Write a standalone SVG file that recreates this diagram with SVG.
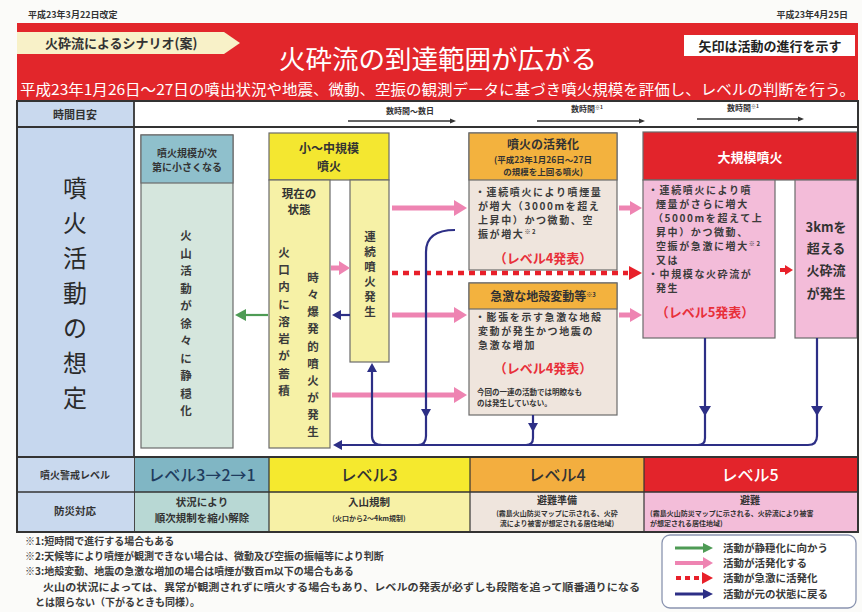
<svg xmlns="http://www.w3.org/2000/svg" width="862" height="612" viewBox="0 0 862 612">
<style>
text{font-family:"Noto Sans CJK JP","Noto Sans",sans-serif;fill:#333}
.b{font-weight:bold}
.c{text-anchor:middle}
.bd{font-size:10px;letter-spacing:1.6px;font-weight:bold;fill:#3b3b3b}
.red{font-size:13px;font-weight:bold;fill:#e8303a}
.vt{font-size:11.5px;font-weight:bold;text-anchor:middle;fill:#3b3b3b}
.bx{stroke:#6b6b6b;stroke-width:1.2}
.pk{stroke:#ee84b2;stroke-width:5;fill:none}
.nv{stroke:#2d2f86;stroke-width:2.2;fill:none}
.nvh{fill:#2d2f86}
.pkh{fill:#ee84b2}
.fn{font-size:10px;font-weight:bold;fill:#3a3a3a}
.lg{font-size:10.5px;font-weight:bold;fill:#3a3a3a}
.tl{stroke:#333;stroke-width:1.5}
.lv{font-size:16px;font-weight:500;text-anchor:middle}
</style>
<rect width="862" height="612" fill="#fbfbf9"/>

<g id="header">
<text x="28" y="18" class="b" font-size="9">平成23年3月22日改定</text>
<text x="848" y="18" class="b" font-size="9" text-anchor="end">平成23年4月25日</text>
<rect x="17" y="23" width="841" height="78" fill="#e2262b"/>
<polygon points="17,32 224,32 240,43 224,54 17,54" fill="#f8f1c8"/>
<text x="45" y="48" class="b" font-size="13" fill="#333">火砕流によるシナリオ(案)</text>
<text x="438" y="69" class="c" font-size="26.5" style="fill:#fff">火砕流の到達範囲が広がる</text>
<rect x="684" y="35" width="171" height="21" fill="#fff"/>
<text x="770" y="51" class="b c" font-size="13" style="fill:#222">矢印は活動の進行を示す</text>
<text x="20" y="95" font-size="14.5" textLength="835" lengthAdjust="spacingAndGlyphs" style="fill:#fff">平成23年1月26日〜27日の噴出状況や地震、微動、空振の観測データに基づき噴火規模を評価し、レベルの判断を行う。</text>
</g>

<g id="frame">
<rect x="17" y="101" width="841" height="431" fill="#fff" stroke="#333" stroke-width="2"/>
<rect x="18" y="102" width="116" height="25" fill="#c9d9ee"/>
<rect x="18" y="128" width="116" height="329" fill="#c6d7ee"/>
<line x1="17" y1="127" x2="858" y2="127" stroke="#333" stroke-width="2.2"/>
<line x1="134" y1="101" x2="134" y2="532" stroke="#333" stroke-width="1.8"/>
<line x1="17" y1="457" x2="858" y2="457" stroke="#333" stroke-width="2.2"/>
<text x="75" y="119" class="b c" font-size="11">時間目安</text>
<text class="c" font-size="24" style="fill:#2a2a2a">
<tspan x="75" y="197">噴</tspan><tspan x="75" y="232">火</tspan><tspan x="75" y="267">活</tspan><tspan x="75" y="302">動</tspan><tspan x="75" y="337">の</tspan><tspan x="75" y="372">想</tspan><tspan x="75" y="407">定</tspan>
</text>
</g>

<g id="timeline">
<line x1="348" y1="121" x2="452" y2="121" class="tl"/><polygon points="456,121 450,118.5 450,123.5" fill="#333"/>
<text x="410" y="114" class="b c" font-size="8">数時間〜数日</text>
<line x1="537" y1="121" x2="641" y2="121" class="tl"/><polygon points="645,121 639,118.5 639,123.5" fill="#333"/>
<text x="587" y="112" class="b c" font-size="8">数時間<tspan font-size="5" dy="-3">※1</tspan></text>
<line x1="697" y1="119" x2="800" y2="119" class="tl"/><polygon points="804,119 798,116.5 798,121.5" fill="#333"/>
<text x="743" y="111" class="b c" font-size="8">数時間<tspan font-size="5" dy="-3">※1</tspan></text>
</g>

<g id="calm">
<rect x="141" y="135" width="92" height="313" fill="#d5e6dd" class="bx"/>
<rect x="141" y="135" width="92" height="48" fill="#8fc0cc" class="bx"/>
<text class="b c" font-size="10"><tspan x="187" y="157">噴火規模が次</tspan><tspan x="187" y="171">第に小さくなる</tspan></text>
<text class="vt"><tspan x="186" y="240">火</tspan><tspan x="186" y="258">山</tspan><tspan x="186" y="275">活</tspan><tspan x="186" y="293">動</tspan><tspan x="186" y="310">が</tspan><tspan x="186" y="328">徐</tspan><tspan x="186" y="345">々</tspan><tspan x="186" y="363">に</tspan><tspan x="186" y="380">静</tspan><tspan x="186" y="398">穏</tspan><tspan x="186" y="415">化</tspan></text>
</g>

<g id="small-eruption">
<rect x="269" y="133" width="120" height="47" fill="#f4e730" class="bx"/>
<text class="b c" font-size="12"><tspan x="329" y="153">小〜中規模</tspan><tspan x="329" y="171">噴火</tspan></text>
<rect x="269" y="180" width="61" height="268" fill="#f6f1a6" class="bx"/>
<rect x="350" y="180" width="39" height="182" fill="#f6f1a6" class="bx"/>
<text class="b c" font-size="11.5"><tspan x="299" y="198">現在の</tspan><tspan x="299" y="214">状態</tspan></text>
<text class="vt"><tspan x="284" y="257">火</tspan><tspan x="284" y="274">口</tspan><tspan x="284" y="291">内</tspan><tspan x="284" y="309">に</tspan><tspan x="284" y="326">溶</tspan><tspan x="284" y="343">岩</tspan><tspan x="284" y="360">が</tspan><tspan x="284" y="378">蓄</tspan><tspan x="284" y="395">積</tspan></text>
<text class="vt"><tspan x="313" y="282">時</tspan><tspan x="313" y="299">々</tspan><tspan x="313" y="316">爆</tspan><tspan x="313" y="333">発</tspan><tspan x="313" y="351">的</tspan><tspan x="313" y="368">噴</tspan><tspan x="313" y="385">火</tspan><tspan x="313" y="402">が</tspan><tspan x="313" y="419">発</tspan><tspan x="313" y="436">生</tspan></text>
<text class="vt" font-size="10.5"><tspan x="370" y="241">連</tspan><tspan x="370" y="256">続</tspan><tspan x="370" y="271">噴</tspan><tspan x="370" y="286">火</tspan><tspan x="370" y="301">発</tspan><tspan x="370" y="316">生</tspan></text>
</g>

<g id="activation">
<rect x="469" y="133" width="148" height="137" fill="#efe5dd" class="bx"/>
<rect x="469" y="133" width="148" height="47" fill="#f3b23e" class="bx"/>
<text x="543" y="149" class="b c" font-size="12">噴火の活発化</text>
<text class="b c" font-size="8.5"><tspan x="543" y="163">(平成23年1月26日〜27日</tspan><tspan x="543" y="175">の規模を上回る噴火)</tspan></text>
<text class="bd"><tspan x="475" y="196">・連続噴火により噴煙量</tspan><tspan x="478" y="210">が増大（3000mを超え</tspan><tspan x="478" y="224">上昇中）かつ微動、空</tspan><tspan x="478" y="238">振が増大<tspan font-size="6" dy="-4">※2</tspan></tspan></text>
<text x="543" y="263" class="red c">（レベル4発表）</text>
</g>

<g id="deformation">
<rect x="469" y="283" width="148" height="132" fill="#efe5dd" class="bx"/>
<rect x="469" y="283" width="148" height="26" fill="#f3b23e" class="bx"/>
<text x="543" y="301" class="b c" font-size="12">急激な地殻変動等<tspan font-size="6" dy="-4">※3</tspan></text>
<text class="bd"><tspan x="475" y="321">・膨張を示す急激な地殻</tspan><tspan x="478" y="335">変動が発生かつ地震の</tspan><tspan x="478" y="349">急激な増加</tspan></text>
<text x="543" y="373" class="red c">（レベル4発表）</text>
<text class="b" font-size="7.5"><tspan x="477" y="395">今回の一連の活動では明瞭なも</tspan><tspan x="477" y="406">のは発生していない。</tspan></text>
</g>

<g id="large-eruption">
<rect x="643" y="132" width="214" height="48" fill="#e2242b" class="bx"/>
<text x="750" y="162" class="b c" font-size="13" style="fill:#fff">大規模噴火</text>
<rect x="643" y="180" width="132" height="158" fill="#f3bcd9" class="bx"/>
<text class="bd"><tspan x="648" y="194">・連続噴火により噴</tspan><tspan x="656" y="208">煙量がさらに増大</tspan><tspan x="653" y="222">（5000mを超えて上</tspan><tspan x="656" y="236">昇中）かつ微動、</tspan><tspan x="656" y="250">空振が急激に増大<tspan font-size="6" dy="-4">※2</tspan></tspan><tspan x="656" y="264">又は</tspan><tspan x="648" y="278">・中規模な火砕流が</tspan><tspan x="656" y="292">発生</tspan></text>
<text x="705" y="317" class="red c">（レベル5発表）</text>
</g>

<g id="pyroclastic-flow">
<rect x="795" y="180" width="62" height="158" fill="#f3bcd9" class="bx"/>
<text class="b c" font-size="13"><tspan x="826" y="232">3kmを</tspan><tspan x="826" y="253">超える</tspan><tspan x="826" y="275">火砕流</tspan><tspan x="826" y="298">が発生</tspan></text>
</g>

<g id="connectors">
<line x1="392" y1="208" x2="456" y2="208" class="pk"/><polygon points="467,208 454,200 454,216" class="pkh"/>
<line x1="619" y1="208" x2="632" y2="208" class="pk"/><polygon points="642,208 630,201 630,215" class="pkh"/>
<line x1="331" y1="268" x2="341" y2="268" class="pk"/><polygon points="350,268 339,261 339,275" class="pkh"/>
<line x1="392" y1="315" x2="456" y2="315" class="pk"/><polygon points="467,315 454,307 454,323" class="pkh"/>
<line x1="619" y1="315" x2="632" y2="315" class="pk"/><polygon points="642,315 630,308 630,322" class="pkh"/>
<line x1="332" y1="395" x2="456" y2="395" class="pk"/><polygon points="467,395 454,387 454,403" class="pkh"/>
<line x1="392" y1="273" x2="628" y2="273" stroke="#e8202a" stroke-width="4.5" stroke-dasharray="6,5"/><polygon points="642,273 629,266 629,280" fill="#e8202a"/>
<line x1="780" y1="270" x2="786" y2="270" stroke="#e8202a" stroke-width="4"/><polygon points="793,270 785,265 785,275" fill="#e8202a"/>
<line x1="268" y1="315" x2="244" y2="315" stroke="#4e9b55" stroke-width="2.2"/><polygon points="235,315 246,309 246,321" fill="#4e9b55"/>
<line x1="350" y1="315" x2="340" y2="315" class="nv"/><polygon points="332,315 341,310 341,320" class="nvh"/>
<path d="M455 230 Q426 230 426 252 L426 436 Q426 445 418 445" class="nv"/>
<polygon points="426,418 421,409 431,409" class="nvh"/>
<path d="M817 338 L817 436 Q817 445 808 445 L340 445" class="nv"/>
<polygon points="333,445 342,440 342,450" class="nvh"/>
<polygon points="817,416 811,406 823,406" class="nvh"/>
<path d="M705 338 L705 438 Q705 445 698 445" class="nv"/>
<polygon points="705,416 699,406 711,406" class="nvh"/>
<path d="M533 415 L533 438 Q533 445 526 445" class="nv"/>
<polygon points="533,432 528,423 538,423" class="nvh"/>
<path d="M382 445 Q372 445 372 436 L372 370" class="nv"/>
<polygon points="372,363 367,372 377,372" class="nvh"/>
</g>

<g id="levels">
<rect x="18" y="458" width="116" height="34" fill="#c9d9ee"/>
<rect x="135" y="458" width="134" height="34" fill="#80b6c4"/>
<rect x="269" y="458" width="201" height="34" fill="#f5e92e"/>
<rect x="470" y="458" width="174" height="34" fill="#f3ae3f"/>
<rect x="644" y="458" width="213" height="34" fill="#e3242b"/>
<rect x="18" y="492" width="116" height="39" fill="#c9d9ee"/>
<rect x="135" y="492" width="134" height="39" fill="#b8d8d4"/>
<rect x="269" y="492" width="201" height="39" fill="#f7f1a6"/>
<rect x="470" y="492" width="174" height="39" fill="#efe5dd"/>
<rect x="644" y="492" width="213" height="39" fill="#f3bdd9"/>
<line x1="17" y1="492" x2="858" y2="492" stroke="#333" stroke-width="1.5"/>
<line x1="269" y1="457" x2="269" y2="532" stroke="#333" stroke-width="1.2"/>
<line x1="470" y1="457" x2="470" y2="532" stroke="#333" stroke-width="1.2"/>
<line x1="644" y1="457" x2="644" y2="532" stroke="#333" stroke-width="1.2"/>
<rect x="17" y="101" width="841" height="431" fill="none" stroke="#333" stroke-width="2"/>
<text x="75" y="479" class="b c" font-size="10">噴火警戒レベル</text>
<text x="75" y="515" class="b c" font-size="10.5">防災対応</text>
<text x="202" y="481" class="lv" style="fill:#1f3c5e">レベル3→2→1</text>
<text x="369" y="481" class="lv">レベル3</text>
<text x="557" y="481" class="lv">レベル4</text>
<text x="750" y="481" class="lv" style="fill:#fff">レベル5</text>
<text class="b c" font-size="10.5"><tspan x="202" y="506">状況により</tspan><tspan x="202" y="522">順次規制を縮小解除</tspan></text>
<text x="369" y="506" class="b c" font-size="10.5">入山規制</text>
<text x="369" y="521" class="b c" font-size="7">(火口から2〜4km規制)</text>
<text x="557" y="504" class="b c" font-size="10">避難準備</text>
<text class="b c" font-size="7"><tspan x="557" y="516">(霧島火山防災マップに示される、火砕</tspan><tspan x="557" y="526">流により被害が想定される居住地域)</tspan></text>
<text x="750" y="504" class="b c" font-size="10">避難</text>
<text class="b" font-size="7"><tspan x="650" y="516">(霧島火山防災マップに示される、火砕流により被害</tspan><tspan x="650" y="526">が想定される居住地域)</tspan></text>
</g>

<g id="notes">
<text x="25" y="545" class="fn">※1:短時間で進行する場合もある</text>
<text x="25" y="560" class="fn">※2:天候等により噴煙が観測できない場合は、微動及び空振の振幅等により判断</text>
<text x="25" y="575" class="fn">※3:地殻変動、地震の急激な増加の場合は噴煙が数百m以下の場合もある</text>
<text x="43" y="591" class="fn" textLength="597" lengthAdjust="spacingAndGlyphs">火山の状況によっては、異常が観測されずに噴火する場合もあり、レベルの発表が必ずしも段階を追って順番通りになる</text>
<text x="35" y="606" class="fn">とは限らない（下がるときも同様）。</text>
</g>

<g id="legend">
<rect x="662" y="535" width="194" height="73" rx="8" fill="#fff" stroke="#8a94b0" stroke-width="1.3"/>
<line x1="675" y1="548" x2="704" y2="548" stroke="#4e9b55" stroke-width="3"/><polygon points="713,548 703,543 703,553" fill="#4e9b55"/>
<line x1="675" y1="563" x2="704" y2="563" stroke="#ee84b2" stroke-width="4"/><polygon points="713,563 703,557 703,569" fill="#ee84b2"/>
<line x1="676" y1="578" x2="702" y2="578" stroke="#e8202a" stroke-width="4" stroke-dasharray="5,4"/><polygon points="713,578 702,572 702,584" fill="#e8202a"/>
<line x1="675" y1="594" x2="704" y2="594" stroke="#2d2f86" stroke-width="3"/><polygon points="713,594 703,589 703,599" fill="#2d2f86"/>
<text x="723" y="552" class="lg">活動が静穏化に向かう</text>
<text x="723" y="567" class="lg">活動が活発化する</text>
<text x="723" y="582" class="lg">活動が急激に活発化</text>
<text x="723" y="598" class="lg">活動が元の状態に戻る</text>
</g>
</svg>
